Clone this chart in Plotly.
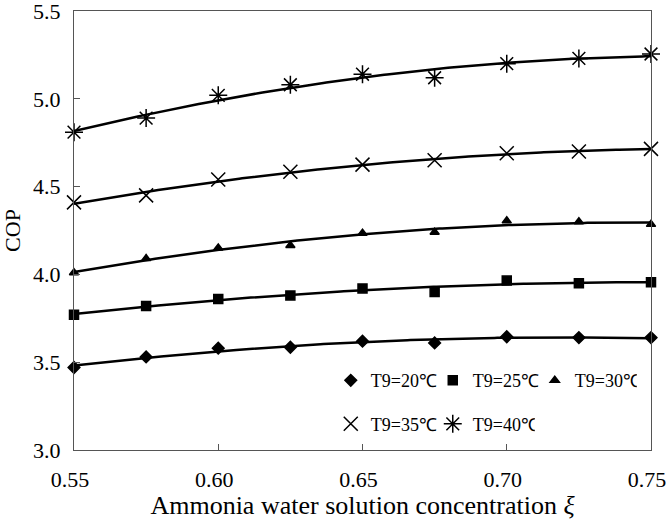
import numpy as np
import plotly.graph_objects as go

# concentration values (x)
xi = [0.55, 0.575, 0.60, 0.625, 0.65, 0.675, 0.70, 0.725, 0.75]

# COP values for each T9
cop_20 = [3.47, 3.53, 3.58, 3.585, 3.62, 3.61, 3.645, 3.64, 3.64]
cop_25 = [3.77, 3.82, 3.86, 3.88, 3.92, 3.90, 3.965, 3.95, 3.955]
cop_30 = [4.01, 4.09, 4.15, 4.165, 4.235, 4.24, 4.305, 4.30, 4.285]
cop_35 = [4.41, 4.45, 4.54, 4.585, 4.625, 4.65, 4.69, 4.70, 4.715]
cop_40 = [4.81, 4.89, 5.02, 5.08, 5.14, 5.12, 5.20, 5.23, 5.255]

names = ["T9=20℃", "T9=25℃", "T9=30℃", "T9=35℃", "T9=40℃"]
series = [cop_20, cop_25, cop_30, cop_35, cop_40]

x_ticks = [0.55, 0.60, 0.65, 0.70, 0.75]
y_ticks = [3.0, 3.5, 4.0, 4.5, 5.0, 5.5]

symbols = ["diamond", "square", "triangle-up", "x-thin-open", "asterisk-open"]
sizes = [9, 9, 8, 14, 15]
legends = ["legend", "legend", "legend", "legend2", "legend2"]

fig = go.Figure()

xs = np.array(xi)
xfine = np.linspace(xs.min(), xs.max(), 200)
for ys in series:
    coef = np.polyfit(xs, np.array(ys), 2)
    fig.add_trace(go.Scatter(
        x=xfine, y=np.polyval(coef, xfine), mode="lines",
        line=dict(color="black", width=2.5), showlegend=False, hoverinfo="skip"))

for name, ys, sym, sz, lg in zip(names, series, symbols, sizes, legends):
    fig.add_trace(go.Scatter(
        x=xi, y=ys, mode="markers", name=name, legend=lg, cliponaxis=False,
        marker=dict(symbol=sym, size=sz, color="black",
                    line=dict(color="black", width=1.5))))

font_family = "Liberation Serif"

legend_common = dict(
    orientation="h", xanchor="left", yanchor="middle",
    bgcolor="rgba(0,0,0,0)", borderwidth=0,
    font=dict(family=font_family, size=18, color="black"),
    entrywidth=57, entrywidthmode="pixels", itemwidth=30,
    tracegroupgap=0,
)

fig.update_layout(
    width=668, height=520,
    margin=dict(l=74, r=17, t=11, b=70),
    paper_bgcolor="white", plot_bgcolor="white",
    font=dict(family=font_family, size=22, color="black"),
    xaxis=dict(
        range=[0.55, 0.75], tickvals=x_ticks, tickformat=".2f",
        ticks="inside", ticklen=6, tickcolor="#555", tickwidth=1,
        showline=True, linecolor="#555", linewidth=1, mirror=True,
        showgrid=False, zeroline=False, automargin=False,
        ticklabeloverflow="allow", ticklabelstandoff=10, ticklabelshift=-4,
        title=dict(text="Ammonia water solution concentration <i>ξ</i>",
                   font=dict(family=font_family, size=26), standoff=11),
        tickfont=dict(family=font_family, size=22),
    ),
    yaxis=dict(
        range=[3.0, 5.5], tickvals=y_ticks, tickformat=".1f",
        ticks="inside", ticklen=6, tickcolor="#555", tickwidth=1,
        showline=True, linecolor="#555", linewidth=1, mirror=True,
        showgrid=False, zeroline=False, automargin=False,
        ticklabeloverflow="allow",
        title=dict(text="COP", font=dict(family=font_family, size=22), standoff=6),
        tickfont=dict(family=font_family, size=22), ticklabelstandoff=8,
    ),
    legend=dict(x=0.445, y=0.158, **legend_common),
    legend2=dict(x=0.445, y=0.059, **legend_common),
)

fig.write_html("out.html", config={"displayModeBar": False},
               post_script="document.body.style.margin='0';")
